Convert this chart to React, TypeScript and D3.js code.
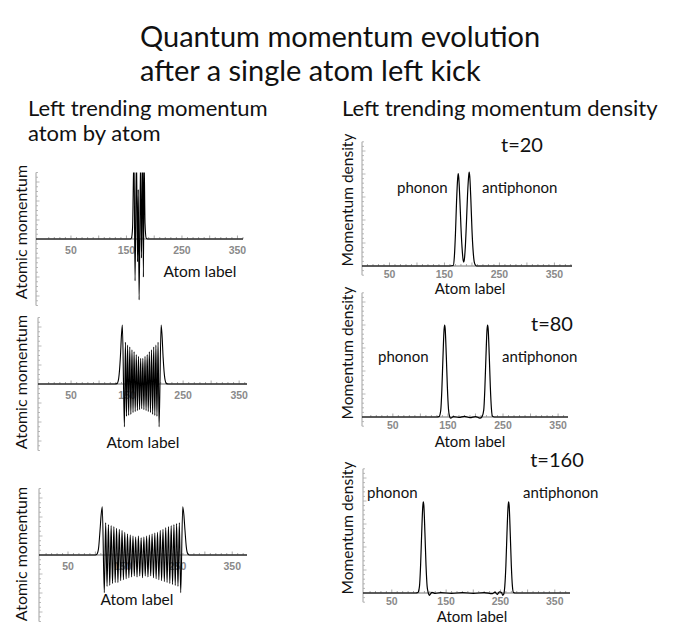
import React from 'react';
import * as d3 from 'd3';

type Pt = [number, number];

const TITLE_LINES = ['Quantum momentum evolution', 'after a single atom left kick'];
const LEFT_HEADING = ['Left trending momentum', 'atom by atom'];
const RIGHT_HEADING = 'Left trending momentum density';
const X_TICK_LABELS = [50, 150, 250, 350];
const TIME_LABELS = ['t=20', 't=80', 't=160'];
const PEAK_LABELS = ['phonon', 'antiphonon'];
const LEFT_Y_LABEL = 'Atomic momentum';
const RIGHT_Y_LABEL = 'Momentum density';
const X_LABEL = 'Atom label';

// atom-by-atom momentum (turning points), [atom, momentum]
const momentumT20: Pt[] = [
  [-13, 0], [150, 0], [157, 0], [159, 0.05], [161, 0.6], [163.5, 4.5], [165.5, -2.2], [168, 4.5],
  [170, -1.2], [171.3, 2.6], [172.8, -3.2], [175.6, 4.5], [177, -1.0], [179.3, 4.5], [180.5, -2.0],
  [181.8, 4.2], [183.5, 0.8], [185.5, 0.05], [188, 0], [360, 0],
];

const momentumT80: Pt[] = [
  [-9, 0], [128, 0], [132, 0.02], [135, 0.3], [138, 1.4], [140, 2.6], [141.6, 3.1], [145.2, -2.25],
  [147.0, 2.2], [148.9, -1.7], [150.9, 2.05], [152.8, -1.65], [154.8, 1.95], [156.7, -1.6],
  [158.7, 1.8], [160.6, -1.5], [162.5, 1.7], [164.5, -1.45], [166.4, 1.55], [168.4, -1.4],
  [170.3, 1.45], [172.3, -1.35], [174.2, 1.35], [176.1, -1.3], [178.1, 1.35], [180.0, -1.35],
  [182.0, 1.45], [183.9, -1.4], [185.9, 1.55], [187.8, -1.45], [189.7, 1.7], [191.7, -1.5],
  [193.6, 1.8], [195.6, -1.6], [197.5, 1.95], [199.5, -1.65], [201.4, 2.05], [203.3, -1.7],
  [205.3, 2.2], [207.1, -2.25], [210.7, 3.1], [212.3, 2.6], [214.3, 1.4], [217.3, 0.3],
  [220.3, 0.02], [224, 0], [364, 0],
];

const momentumT160: Pt[] = [
  [-3, 0], [100, 0], [103, 0.05], [106, 0.4], [108.5, 1.3], [110.5, 2.1], [112.6, 2.54],
  [116.3, -1.98], [118.8, 1.7], [121.3, -1.65], [123.8, 1.6], [126.3, -1.6], [128.8, 1.55],
  [131.3, -1.5], [133.8, 1.5], [136.2, -1.45], [138.7, 1.4], [141.2, -1.45], [143.7, 1.35],
  [146.2, -1.35], [148.7, 1.3], [151.2, -1.3], [153.7, 1.2], [156.2, -1.25], [158.7, 1.1],
  [161.2, -1.2], [163.7, 1.05], [166.2, -1.15], [168.7, 1.0], [171.1, -1.1], [173.6, 0.95],
  [176.1, -1.15], [178.6, 1.0], [181.1, -1.1], [183.6, 0.9], [186.1, -1.2], [188.6, 0.95],
  [191.1, -1.1], [193.6, 1.0], [196.1, -1.15], [198.6, 1.05], [201.1, -1.1], [203.6, 1.1],
  [206.1, -1.2], [208.6, 1.15], [211.0, -1.25], [213.5, 1.2], [216.0, -1.3], [218.5, 1.3],
  [221.0, -1.35], [223.5, 1.35], [226.0, -1.4], [228.5, 1.45], [231.0, -1.45], [233.5, 1.5],
  [236.0, -1.5], [238.5, 1.55], [241.0, -1.55], [243.5, 1.6], [245.9, -1.6], [248.4, 1.65],
  [250.9, -1.65], [253.4, 1.7], [255.9, -1.98], [259.6, 2.54], [261.7, 2.1], [263.7, 1.3],
  [266.2, 0.4], [269, 0.05], [272, 0], [377, 0],
];

// momentum density, [atom, density]
const densityT20: Pt[] = [
  [0, 0], [160, 0], [166, 0.02], [168, 0.4], [170, 1.4], [172, 2.8], [174, 3.8], [175, 4.02],
  [176, 3.85], [178, 2.9], [180, 1.7], [182, 0.8], [184, 0.25], [185, 0.17], [186, 0.25],
  [188, 0.85], [190, 1.9], [192, 3.1], [194, 3.9], [195, 4.08], [196, 3.9], [198, 2.9],
  [200, 1.6], [202, 0.7], [204, 0.2], [206, 0.05], [208, 0], [382, 0],
];

const densityT80: Pt[] = [
  [-6, 0], [130, 0], [134, 0.02], [137, 0.3], [139, 1.2], [141, 2.6], [143, 3.8], [144, 4.0],
  [145, 3.85], [147, 2.7], [149, 1.3], [151, 0.35], [153, 0.03], [155, -0.05], [160, 0.02],
  [170, -0.02], [180, 0.03], [190, -0.03], [200, 0.02], [208, -0.05], [212, 0.02], [215, 0.3],
  [217, 1.2], [219, 2.6], [221, 3.8], [222, 4.0], [223, 3.85], [225, 2.7], [227, 1.3],
  [229, 0.35], [231, 0.03], [234, 0], [368, 0],
];

const densityT160: Pt[] = [
  [-3, 0], [94, 0], [98, 0.02], [101, 0.3], [103, 1.2], [105, 2.6], [107, 3.75], [108, 3.96],
  [109, 3.8], [111, 2.6], [113, 1.2], [115, 0.3], [117, 0.02], [119, -0.1], [121, -0.05],
  [124, 0.03], [130, -0.02], [140, 0.02], [160, -0.02], [180, 0.02], [200, -0.02], [220, 0.02],
  [235, -0.03], [240, 0.04], [244, -0.06], [248, 0.05], [252, 0.02], [254, -0.1], [256, -0.05],
  [258, 0.3], [260, 1.2], [262, 2.6], [264, 3.75], [265, 3.96], [266, 3.8], [268, 2.6],
  [270, 1.2], [272, 0.3], [274, 0.02], [277, 0], [378, 0],
];

const FONT = 'Lato, "Open Sans", sans-serif';
const TICK_FONT = '"Liberation Sans", Arial, sans-serif';

interface PanelProps {
  id: string;
  data: Pt[];
  x0: number;
  x1: number;
  xDomain: [number, number];
  zeroY: number;
  unit: number; // px per y unit
  yUp: number; // units above zero
  yDown: number; // units below zero
  yMinor: number;
  lineWidth: number;
  labelOffset: number;
}

function Panel(p: PanelProps) {
  const xs = d3.scaleLinear().domain(p.xDomain).range([p.x0, p.x1]);
  const ys = d3
    .scaleLinear()
    .domain([-p.yDown, p.yUp])
    .range([p.zeroY + p.yDown * p.unit, p.zeroY - p.yUp * p.unit]);
  const line = d3
    .line<Pt>()
    .x((d) => xs(d[0]))
    .y((d) => ys(d[1]))
    .curve(d3.curveMonotoneX);
  const xTicks = d3.range(10, p.xDomain[1] + 0.01, 10);
  const yTicks = d3
    .range(-Math.floor(p.yDown / p.yMinor) * p.yMinor, p.yUp + 1e-6, p.yMinor)
    .filter((v) => Math.abs(v) > 1e-6);
  const y0 = ys(0);
  return (
    <g>
      <defs>
        <clipPath id={p.id}>
          <rect x={p.x0} y={ys(p.yUp)} width={p.x1 - p.x0} height={ys(-p.yDown) - ys(p.yUp)} />
        </clipPath>
      </defs>
      <line x1={p.x0} x2={p.x0} y1={ys(-p.yDown)} y2={ys(p.yUp)} stroke="#a0a0a0" strokeWidth={1} />
      {yTicks.map((v, i) => {
        const major = Math.abs(v - Math.round(v)) < 1e-6;
        return (
          <line
            key={'y' + i}
            x1={p.x0}
            x2={p.x0 + (major ? 3.5 : 2)}
            y1={ys(v)}
            y2={ys(v)}
            stroke="#a8a8a8"
            strokeWidth={0.8}
          />
        );
      })}
      <line x1={p.x0} x2={p.x1} y1={y0} y2={y0} stroke="#707070" strokeWidth={1} />
      {xTicks.map((v) => (
        <line
          key={'x' + v}
          x1={xs(v)}
          x2={xs(v)}
          y1={y0}
          y2={y0 - (v % 50 === 0 ? 3.5 : 2)}
          stroke="#909090"
          strokeWidth={0.8}
        />
      ))}
      {X_TICK_LABELS.map((v) => (
        <text
          key={'l' + v}
          x={xs(v)}
          y={y0 + p.labelOffset}
          textAnchor="middle"
          fontFamily={TICK_FONT}
          fontWeight="bold"
          fontSize={10.5}
          fill="#8a8a8a"
        >
          {v}
        </text>
      ))}
      <path
        d={line(p.data) || ''}
        fill="none"
        stroke="#000"
        strokeWidth={p.lineWidth}
        clipPath={`url(#${p.id})`}
      />
    </g>
  );
}

function Txt(props: { x: number; y: number; size: number; anchor?: string; rotate?: boolean; children: string }) {
  const { x, y, size, anchor = 'start', rotate = false, children } = props;
  return (
    <text
      x={rotate ? 0 : x}
      y={rotate ? 0 : y}
      transform={rotate ? `translate(${x},${y}) rotate(-90)` : undefined}
      textAnchor={anchor}
      fontFamily={FONT}
      fontSize={size}
      fill="#111"
    >
      {children}
    </text>
  );
}

export default function App() {
  const leftCommon = { unit: 19, yUp: 3.5, yDown: 3.5, yMinor: 0.25, lineWidth: 1.1, labelOffset: 15 };
  const rightCommon = { unit: 23, yUp: 5.4, yDown: 0.4, yMinor: 0.2, lineWidth: 1.2, labelOffset: 12 };
  return (
    <svg
      width={692}
      height={629}
      viewBox="0 0 692 629"
      style={{ position: 'absolute', left: 0, top: 0, background: '#fff' }}
    >
      <rect width={692} height={629} fill="#fff" />
      <Txt x={140} y={47} size={29}>{TITLE_LINES[0]}</Txt>
      <Txt x={140} y={81} size={29}>{TITLE_LINES[1]}</Txt>
      <Txt x={28} y={116} size={22}>{LEFT_HEADING[0]}</Txt>
      <Txt x={28} y={141} size={22}>{LEFT_HEADING[1]}</Txt>
      <Txt x={342} y={116} size={22}>{RIGHT_HEADING}</Txt>

      <Panel {...leftCommon} id="c1" data={momentumT20} x0={36} x1={243} xDomain={[-13, 360]} zeroY={239} />
      <Panel {...leftCommon} id="c2" data={momentumT80} x0={38} x1={247} xDomain={[-9, 364]} zeroY={384} />
      <Panel {...leftCommon} id="c3" data={momentumT160} x0={39} x1={247} xDomain={[-3, 377]} zeroY={555} />

      <Panel {...rightCommon} id="c4" data={densityT20} x0={362} x1={572} xDomain={[0, 382]} zeroY={266} />
      <Panel {...rightCommon} id="c5" data={densityT80} x0={362} x1={568} xDomain={[-6, 368]} zeroY={417} />
      <Panel {...rightCommon} id="c6" data={densityT160} x0={363} x1={570} xDomain={[-3, 378]} zeroY={593} />

      <Txt x={27} y={232} size={16} anchor="middle" rotate>{LEFT_Y_LABEL}</Txt>
      <Txt x={27} y={382} size={16} anchor="middle" rotate>{LEFT_Y_LABEL}</Txt>
      <Txt x={27} y={554} size={16} anchor="middle" rotate>{LEFT_Y_LABEL}</Txt>
      <Txt x={200} y={277} size={15.5} anchor="middle">{X_LABEL}</Txt>
      <Txt x={143} y={448} size={15.5} anchor="middle">{X_LABEL}</Txt>
      <Txt x={137} y={605} size={15.5} anchor="middle">{X_LABEL}</Txt>

      <Txt x={353} y={200} size={15.5} anchor="middle" rotate>{RIGHT_Y_LABEL}</Txt>
      <Txt x={353} y={353} size={15.5} anchor="middle" rotate>{RIGHT_Y_LABEL}</Txt>
      <Txt x={353} y={528} size={15.5} anchor="middle" rotate>{RIGHT_Y_LABEL}</Txt>
      <Txt x={470} y={294} size={15} anchor="middle">{X_LABEL}</Txt>
      <Txt x={470} y={447} size={15} anchor="middle">{X_LABEL}</Txt>
      <Txt x={472} y={622} size={15} anchor="middle">{X_LABEL}</Txt>

      <Txt x={522} y={152} size={20} anchor="middle">{TIME_LABELS[0]}</Txt>
      <Txt x={552} y={331} size={20} anchor="middle">{TIME_LABELS[1]}</Txt>
      <Txt x={557} y={467} size={20} anchor="middle">{TIME_LABELS[2]}</Txt>

      <Txt x={397} y={193} size={15}>{PEAK_LABELS[0]}</Txt>
      <Txt x={482} y={193} size={15}>{PEAK_LABELS[1]}</Txt>
      <Txt x={378} y={362} size={15}>{PEAK_LABELS[0]}</Txt>
      <Txt x={502} y={362} size={15}>{PEAK_LABELS[1]}</Txt>
      <Txt x={367} y={498} size={15}>{PEAK_LABELS[0]}</Txt>
      <Txt x={523} y={498} size={15}>{PEAK_LABELS[1]}</Txt>
    </svg>
  );
}
